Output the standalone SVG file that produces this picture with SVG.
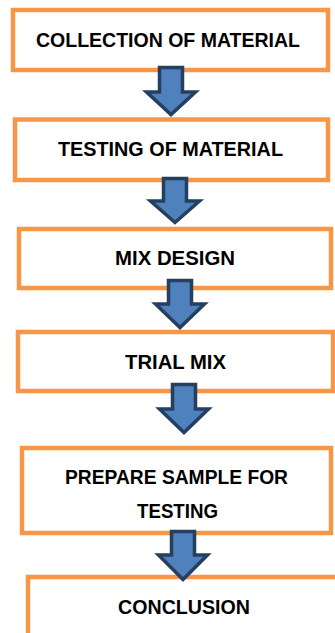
<svg xmlns="http://www.w3.org/2000/svg" width="335" height="633" viewBox="0 0 335 633">
<style>
.box{fill:#ffffff;stroke:#F79646;stroke-width:4.5}
.lbl{font-family:"Liberation Sans",Arial,sans-serif;font-weight:bold;font-size:20px;fill:#000;text-anchor:middle}
.arr{fill:#4F81BD;stroke:#243F60;stroke-width:3.5;stroke-linejoin:miter}
</style>
<rect width="335" height="633" fill="#ffffff"/>
<g id="node-collection">
<rect class="box" x="13" y="10" width="315" height="60"/>
<text class="lbl" x="168" y="46.5" textLength="264" lengthAdjust="spacingAndGlyphs">COLLECTION OF MATERIAL</text>
</g>
<g id="node-testing">
<rect class="box" x="15" y="119.5" width="313" height="60.5"/>
<text class="lbl" x="170.5" y="155.5" textLength="225" lengthAdjust="spacingAndGlyphs">TESTING OF MATERIAL</text>
</g>
<g id="node-mixdesign">
<rect class="box" x="19" y="229" width="312" height="59"/>
<text class="lbl" x="175" y="264.5" textLength="120" lengthAdjust="spacingAndGlyphs">MIX DESIGN</text>
</g>
<g id="node-trialmix">
<rect class="box" x="18" y="332" width="315" height="59"/>
<text class="lbl" x="175.5" y="368.5" textLength="101" lengthAdjust="spacingAndGlyphs">TRIAL MIX</text>
</g>
<g id="node-prepare">
<rect class="box" x="22" y="448" width="309" height="85"/>
<text class="lbl" x="176.5" y="483.5" textLength="223" lengthAdjust="spacingAndGlyphs">PREPARE SAMPLE FOR</text>
<text class="lbl" x="177.5" y="517.5" textLength="81" lengthAdjust="spacingAndGlyphs">TESTING</text>
</g>
<g id="node-conclusion">
<rect class="box" x="28" y="577" width="320" height="100"/>
<text class="lbl" x="184" y="613.5" textLength="132" lengthAdjust="spacingAndGlyphs">CONCLUSION</text>
</g>
<g id="connectors">
<polygon class="arr" points="159.5,67.5 182.5,67.5 182.5,92 195.5,92 171,114.5 146.5,92 159.5,92"/>
<polygon class="arr" points="163.5,178.5 186.5,178.5 186.5,201 199.5,201 175,222.5 150.5,201 163.5,201"/>
<polygon class="arr" points="168.5,280.5 191.5,280.5 191.5,304 204.5,304 180,327.5 155.5,304 168.5,304"/>
<polygon class="arr" points="172.5,384.5 195.5,384.5 195.5,409 208.5,409 184,432.5 159.5,409 172.5,409"/>
<polygon class="arr" points="171.5,531.5 194.5,531.5 194.5,555 207.5,555 183,579.5 158.5,555 171.5,555"/>
</g>
</svg>
